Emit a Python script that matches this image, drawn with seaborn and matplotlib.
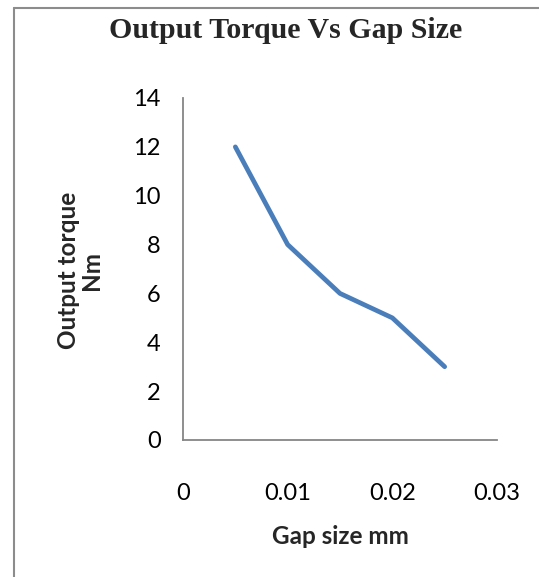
import matplotlib
matplotlib.use("Agg")
import matplotlib.pyplot as plt
import seaborn as sns
import pandas as pd
from matplotlib.lines import Line2D

gap_size = [0.005, 0.010, 0.015, 0.020, 0.025]
torque = [12, 8, 6, 5, 3]
x_ticks = [0, 0.01, 0.02, 0.03]
x_tick_labels = ["0", "0.01", "0.02", "0.03"]
y_ticks = [0, 2, 4, 6, 8, 10, 12, 14]

df = pd.DataFrame({"gap": gap_size, "torque": torque})

sns.set_theme(style="white")
plt.rcParams['font.family'] = ['Lato', 'DejaVu Sans']

W, H = 539, 577
fig = plt.figure(figsize=(W / 100, H / 100), dpi=100)
ax = fig.add_axes([183 / W, 1 - 440 / H, (497 - 183) / W, (440 - 98) / H])

sns.lineplot(data=df, x="gap", y="torque", ax=ax, color="#4A7EBB", linewidth=3.4,
             solid_capstyle="round", solid_joinstyle="round")

ax.set_xlim(0, 0.03)
ax.set_ylim(0, 14)
ax.set_xticks(x_ticks)
ax.set_xticklabels(x_tick_labels)
ax.set_yticks(y_ticks)
ax.tick_params(axis="x", length=0, pad=31, labelsize=17, colors="black")
ax.tick_params(axis="y", length=0, pad=16, labelsize=17, colors="black")

for s in ["top", "right"]:
    ax.spines[s].set_visible(False)
for s in ["left", "bottom"]:
    ax.spines[s].set_color("#868686")
    ax.spines[s].set_linewidth(1.3)

ax.set_xlabel("")
ax.set_ylabel("")
fig.text(340 / W, 1 - 537 / H, "Gap size mm", ha="center", va="center",
         fontsize=17.5, fontweight="bold")
fig.text(80 / W, 1 - 270 / H, "Output torque\nNm", ha="center", va="center",
         rotation=90, fontsize=17.5, fontweight="bold", linespacing=1.0)
fig.text(286 / W, 1 - 31 / H, "Output Torque Vs Gap Size", ha="center", va="center",
         fontsize=21.5, fontweight="bold", family=["Liberation Serif", "DejaVu Serif"])

# outer frame (left and top edges visible)
fig.add_artist(Line2D([14 / W, 14 / W], [0, 1 - 8 / H], transform=fig.transFigure,
                      color="#8C8C8C", linewidth=1.5))
fig.add_artist(Line2D([14 / W, 1], [1 - 8 / H, 1 - 8 / H], transform=fig.transFigure,
                      color="#8C8C8C", linewidth=1.5))

fig.savefig("out.png", dpi=100, facecolor="white")
